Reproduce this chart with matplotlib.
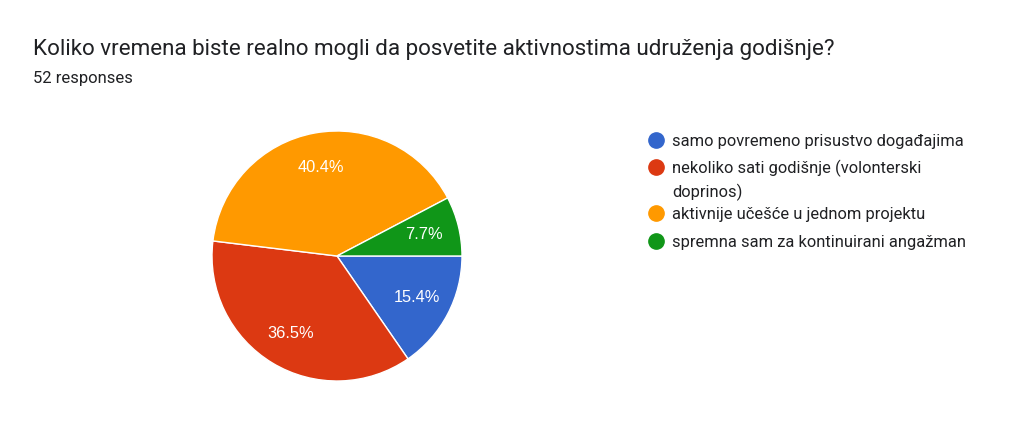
import matplotlib.pyplot as plt
from matplotlib.lines import Line2D

# survey answers, 52 responses
title = "Koliko vremena biste realno mogli da posvetite aktivnostima udruženja godišnje?"
subtitle = "52 responses"
labels = [
    "samo povremeno prisustvo događajima",
    "nekoliko sati godišnje (volonterski\ndoprinos)",
    "aktivnije učešće u jednom projektu",
    "spremna sam za kontinuirani angažman",
]
counts = [8, 19, 21, 4]
colors = ["#3366cc", "#dc3912", "#ff9900", "#109618"]

plt.rcParams['font.family'] = ['Roboto', 'DejaVu Sans']

W, H = 1024, 430
fig = plt.figure(figsize=(W / 100, H / 100), dpi=100)

# pie placed in pixels: center (337,256), radius 125
cx, cy, r = 337, 256, 125
ax = fig.add_axes([(cx - r) / W, (H - cy - r) / H, 2 * r / W, 2 * r / H])
wedges, texts, autotexts = ax.pie(
    counts, colors=colors, startangle=0, counterclock=False,
    autopct='%1.1f%%', pctdistance=0.72,
    wedgeprops=dict(edgecolor='white', linewidth=1),
    textprops=dict(color='white', fontsize=11.8, family=['Liberation Sans', 'DejaVu Sans']))
ax.set_xlim(-1, 1)
ax.set_ylim(-1, 1)
ax.set_aspect('equal')

fig.text(33 / W, 1 - 49 / H, title, fontsize=16.1, color='#202124', va='center')
fig.text(33 / W, 1 - 78 / H, subtitle, fontsize=12, color='#202124', va='center')

# legend drawn by hand so the dot sits on the first line of a wrapped label
entry_y = [140, 166.5, 213, 241.5]
line_h = 23.5
for lab, col, y in zip(labels, colors, entry_y):
    fig.add_artist(Line2D([656 / W], [1 - y / H], transform=fig.transFigure,
                          marker='o', markersize=11, linestyle='',
                          markerfacecolor=col, markeredgecolor=col))
    for i, line in enumerate(lab.split('\n')):
        fig.text(672 / W, 1 - (y + i * line_h) / H, line, fontsize=11.9,
                 color='#202124', va='center_baseline')

fig.savefig('out.png', dpi=100, facecolor='white')
